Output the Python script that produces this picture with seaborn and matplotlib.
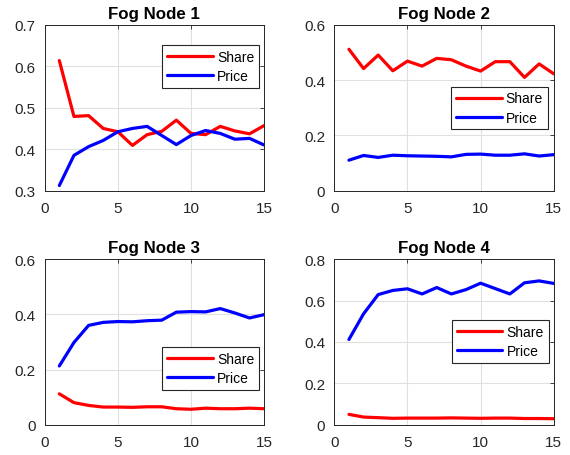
import numpy as np
import pandas as pd
import matplotlib
matplotlib.use("Agg")
import matplotlib.pyplot as plt
import seaborn as sns

iterations = list(range(1, 16))

share_1 = [0.614, 0.479, 0.481, 0.450, 0.442, 0.409, 0.435, 0.443, 0.470, 0.438, 0.435, 0.455, 0.444, 0.437, 0.457]
price_1 = [0.312, 0.385, 0.406, 0.421, 0.442, 0.450, 0.455, 0.433, 0.411, 0.433, 0.445, 0.438, 0.424, 0.426, 0.410]

share_2 = [0.512, 0.442, 0.491, 0.434, 0.469, 0.451, 0.479, 0.474, 0.451, 0.433, 0.467, 0.467, 0.410, 0.459, 0.423]
price_2 = [0.110, 0.127, 0.120, 0.128, 0.126, 0.125, 0.124, 0.122, 0.131, 0.132, 0.128, 0.128, 0.133, 0.125, 0.130]

share_3 = [0.112, 0.080, 0.070, 0.064, 0.064, 0.063, 0.065, 0.065, 0.058, 0.056, 0.060, 0.058, 0.058, 0.060, 0.058]
price_3 = [0.213, 0.298, 0.360, 0.371, 0.374, 0.373, 0.377, 0.379, 0.408, 0.410, 0.409, 0.421, 0.405, 0.387, 0.399]

share_4 = [0.050, 0.037, 0.034, 0.031, 0.032, 0.032, 0.032, 0.033, 0.032, 0.031, 0.032, 0.032, 0.030, 0.030, 0.029]
price_4 = [0.412, 0.536, 0.629, 0.649, 0.657, 0.632, 0.663, 0.632, 0.653, 0.684, 0.658, 0.632, 0.686, 0.695, 0.683]

titles = ["Fog Node 1", "Fog Node 2", "Fog Node 3", "Fog Node 4"]
series_names = ["Share", "Price"]
shares = [share_1, share_2, share_3, share_4]
prices = [price_1, price_2, price_3, price_4]
ylims = [(0.3, 0.7), (0, 0.6), (0, 0.6), (0, 0.8)]
yticks = [[0.3, 0.4, 0.5, 0.6, 0.7], [0, 0.2, 0.4, 0.6], [0, 0.2, 0.4, 0.6], [0, 0.2, 0.4, 0.6, 0.8]]
ytick_labels = [["0.3", "0.4", "0.5", "0.6", "0.7"], ["0", "0.2", "0.4", "0.6"],
                ["0", "0.2", "0.4", "0.6"], ["0", "0.2", "0.4", "0.6", "0.8"]]
xticks = [0, 5, 10, 15]
legend_anchor = [(0.977, 0.879), (0.973, 0.628), (0.977, 0.470), (0.977, 0.634)]

sns.set_style("white")
plt.rcParams['font.family'] = ['Liberation Sans', 'DejaVu Sans']

fig = plt.figure(figsize=(5.7, 4.56), dpi=100)
positions = [
    [0.0784, 0.580, 0.385, 0.363],
    [0.5865, 0.580, 0.385, 0.363],
    [0.0784, 0.0664, 0.385, 0.363],
    [0.5865, 0.0664, 0.385, 0.363],
]

edge = "#262626"
for i in range(4):
    ax = fig.add_axes(positions[i])
    df = pd.DataFrame({
        "x": iterations * 2,
        "y": shares[i] + prices[i],
        "Series": [series_names[0]] * 15 + [series_names[1]] * 15,
    })
    sns.lineplot(data=df, x="x", y="y", hue="Series", hue_order=series_names,
                 palette={"Share": "#FF0000", "Price": "#0000FF"},
                 linewidth=2.3, ax=ax, legend=True)
    ax.set_xlim(0, 15)
    ax.set_ylim(*ylims[i])
    ax.set_xticks(xticks)
    ax.set_xticklabels([str(t) for t in xticks])
    ax.set_yticks(yticks[i])
    ax.set_yticklabels(ytick_labels[i])
    ax.set_xlabel("")
    ax.set_ylabel("")
    ax.set_title(titles[i], fontsize=12.2, fontweight="bold", pad=5, color="black")
    ax.grid(True, color="#e0e0e0", linewidth=0.8)
    ax.set_axisbelow(True)
    for s in ax.spines.values():
        s.set_color(edge)
        s.set_linewidth(0.7)
        s.set_visible(True)
    ax.tick_params(direction="in", length=3, width=0.6, colors=edge, labelsize=11,
                   top=True, right=True, labelcolor=edge)
    ax.tick_params(axis="x", pad=7.5)
    ax.tick_params(axis="y", pad=6.5)
    leg = ax.legend(loc="upper right", bbox_to_anchor=legend_anchor[i],
                    fontsize=10, frameon=True, fancybox=False, framealpha=1,
                    edgecolor=edge, borderpad=0.35, labelspacing=0.37,
                    handlelength=3.3, handletextpad=0.3, borderaxespad=0)
    leg.get_frame().set_linewidth(0.8)
    for t in leg.get_texts():
        t.set_color("black")

fig.savefig("out.png", dpi=100)
